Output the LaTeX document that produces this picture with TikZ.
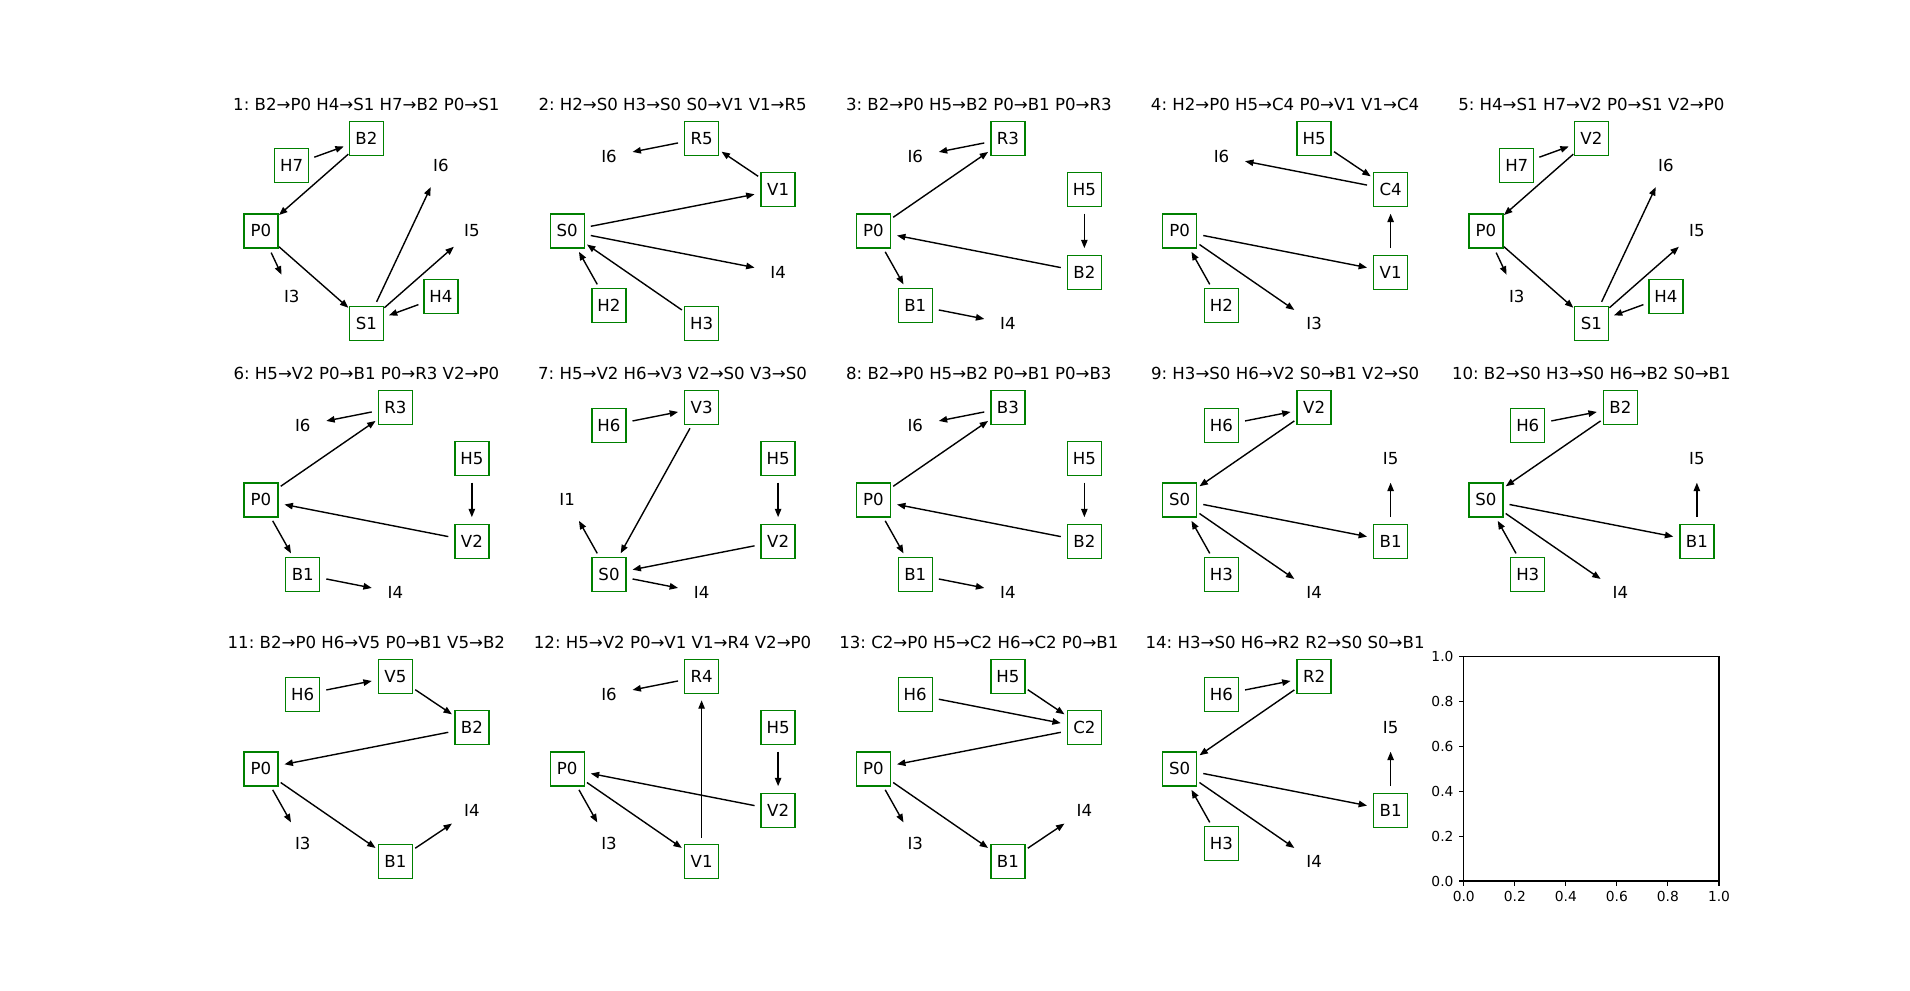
\documentclass[tikz,border=0pt]{standalone}
\usepackage{fontspec}
\setmainfont{DejaVu Sans}
\usepackage{xcolor}
\usetikzlibrary{arrows.meta}
\frenchspacing

\definecolor{boxgreen}{RGB}{0,128,0}
\tikzset{
  box/.style={draw=boxgreen, line width=0.7pt, fill=white, minimum width=17pt,
    minimum height=17pt, inner sep=0pt, font=\fontsize{8.3}{10}\selectfont},
  lbl/.style={inner sep=0pt, font=\fontsize{8.3}{10}\selectfont},
  ttl/.style={anchor=base, inner sep=0pt, font=\fontsize{8.3}{10}\selectfont},
  edge/.style={-{Triangle[length=4.2pt,width=3.2pt]}, line width=0.7pt,
    shorten <=12pt, shorten >=12pt},
  tick/.style={inner sep=0pt, font=\fontsize{6.9}{8}\selectfont},
}

\begin{document}
\begin{tikzpicture}[x=0.5pt, y=-0.5pt]
    \useasboundingbox (0,0) rectangle (1910,990);

    % 1. Hàng trên
    \begin{scope}[shift={(238.75,118.8)}, name prefix=a-]
        \node[ttl] (title) at (127.6,-8.5) {1: B2→P0 H4→S1 H7→B2 P0→S1};
        \node[box] (P0) at (22.2,112.1) {P0};
        \node[box] (H7) at (53.0,46.6) {H7};
        \node[box] (B2) at (127.6,19.5) {B2};
        \node[lbl] (I6) at (202.2,46.6) {I6};
        \node[lbl] (I5) at (233.1,112.1) {I5};
        \node[box] (H4) at (202.2,177.6) {H4};
        \node[box] (S1) at (127.6,204.8) {S1};
        \node[lbl] (I3) at (53.0,177.6) {I3};
        \draw[edge] (H7.center) -- (B2.center);
        \draw[edge] (B2.center) -- (P0.center);
        \draw[edge] (P0.center) -- (I3.center);
        \draw[edge] (P0.center) -- (S1.center);
        \draw[edge] (S1.center) -- (I6.center);
        \draw[edge] (S1.center) -- (I5.center);
        \draw[edge] (H4.center) -- (S1.center);
    \end{scope}

    \begin{scope}[shift={(545,118.8)}, name prefix=b-]
        \node[ttl] (title) at (127.6,-8.5) {2: H2→S0 H3→S0 S0→V1 V1→R5};
        \node[box] (S0) at (22.2,112.1) {S0};
        \node[lbl] (I6) at (64.0,37.8) {I6};
        \node[box] (R5) at (156.6,19.5) {R5};
        \node[box] (V1) at (233.1,70.9) {V1};
        \node[lbl] (I4) at (233.1,153.4) {I4};
        \node[box] (H3) at (156.6,204.8) {H3};
        \node[box] (H2) at (64.0,186.5) {H2};
        \draw[edge] (R5.center) -- (I6.center);
        \draw[edge] (V1.center) -- (R5.center);
        \draw[edge] (S0.center) -- (V1.center);
        \draw[edge] (S0.center) -- (I4.center);
        \draw[edge] (H2.center) -- (S0.center);
        \draw[edge] (H3.center) -- (S0.center);
    \end{scope}

    \begin{scope}[shift={(851.25,118.8)}, name prefix=c-]
        \node[ttl] (title) at (127.6,-8.5) {3: B2→P0 H5→B2 P0→B1 P0→R3};
        \node[box] (P0) at (22.2,112.1) {P0};
        \node[lbl] (I6) at (64.0,37.8) {I6};
        \node[box] (R3) at (156.6,19.5) {R3};
        \node[box] (H5) at (233.1,70.9) {H5};
        \node[box] (B2) at (233.1,153.4) {B2};
        \node[lbl] (I4) at (156.6,204.8) {I4};
        \node[box] (B1) at (64.0,186.5) {B1};
        \draw[edge] (R3.center) -- (I6.center);
        \draw[edge] (P0.center) -- (R3.center);
        \draw[edge] (H5.center) -- (B2.center);
        \draw[edge] (B2.center) -- (P0.center);
        \draw[edge] (P0.center) -- (B1.center);
        \draw[edge] (B1.center) -- (I4.center);
    \end{scope}

    \begin{scope}[shift={(1157.5,118.8)}, name prefix=d-]
        \node[ttl] (title) at (127.6,-8.5) {4: H2→P0 H5→C4 P0→V1 V1→C4};
        \node[box] (P0) at (22.2,112.1) {P0};
        \node[lbl] (I6) at (64.0,37.8) {I6};
        \node[box] (H5) at (156.6,19.5) {H5};
        \node[box] (C4) at (233.1,70.9) {C4};
        \node[box] (V1) at (233.1,153.4) {V1};
        \node[lbl] (I3) at (156.6,204.8) {I3};
        \node[box] (H2) at (64.0,186.5) {H2};
        \draw[edge] (H5.center) -- (C4.center);
        \draw[edge] (C4.center) -- (I6.center);
        \draw[edge] (V1.center) -- (C4.center);
        \draw[edge] (P0.center) -- (V1.center);
        \draw[edge] (P0.center) -- (I3.center);
        \draw[edge] (H2.center) -- (P0.center);
    \end{scope}

    \begin{scope}[shift={(1463.75,118.8)}, name prefix=e-]
        \node[ttl] (title) at (127.6,-8.5) {5: H4→S1 H7→V2 P0→S1 V2→P0};
        \node[box] (P0) at (22.2,112.1) {P0};
        \node[box] (H7) at (53.0,46.6) {H7};
        \node[box] (V2) at (127.6,19.5) {V2};
        \node[lbl] (I6) at (202.2,46.6) {I6};
        \node[lbl] (I5) at (233.1,112.1) {I5};
        \node[box] (H4) at (202.2,177.6) {H4};
        \node[box] (S1) at (127.6,204.8) {S1};
        \node[lbl] (I3) at (53.0,177.6) {I3};
        \draw[edge] (H7.center) -- (V2.center);
        \draw[edge] (V2.center) -- (P0.center);
        \draw[edge] (P0.center) -- (I3.center);
        \draw[edge] (P0.center) -- (S1.center);
        \draw[edge] (S1.center) -- (I6.center);
        \draw[edge] (S1.center) -- (I5.center);
        \draw[edge] (H4.center) -- (S1.center);
    \end{scope}

    % 2. Hàng giữa
    \begin{scope}[shift={(238.75,387.8)}, name prefix=f-]
        \node[ttl] (title) at (127.6,-8.5) {6: H5→V2 P0→B1 P0→R3 V2→P0};
        \node[box] (P0) at (22.2,112.1) {P0};
        \node[lbl] (I6) at (64.0,37.8) {I6};
        \node[box] (R3) at (156.6,19.5) {R3};
        \node[box] (H5) at (233.1,70.9) {H5};
        \node[box] (V2) at (233.1,153.4) {V2};
        \node[lbl] (I4) at (156.6,204.8) {I4};
        \node[box] (B1) at (64.0,186.5) {B1};
        \draw[edge] (R3.center) -- (I6.center);
        \draw[edge] (P0.center) -- (R3.center);
        \draw[edge] (H5.center) -- (V2.center);
        \draw[edge] (V2.center) -- (P0.center);
        \draw[edge] (P0.center) -- (B1.center);
        \draw[edge] (B1.center) -- (I4.center);
    \end{scope}

    \begin{scope}[shift={(545,387.8)}, name prefix=g-]
        \node[ttl] (title) at (127.6,-8.5) {7: H5→V2 H6→V3 V2→S0 V3→S0};
        \node[lbl] (I1) at (22.2,112.1) {I1};
        \node[box] (H6) at (64.0,37.8) {H6};
        \node[box] (V3) at (156.6,19.5) {V3};
        \node[box] (H5) at (233.1,70.9) {H5};
        \node[box] (V2) at (233.1,153.4) {V2};
        \node[lbl] (I4) at (156.6,204.8) {I4};
        \node[box] (S0) at (64.0,186.5) {S0};
        \draw[edge] (H6.center) -- (V3.center);
        \draw[edge] (V3.center) -- (S0.center);
        \draw[edge] (H5.center) -- (V2.center);
        \draw[edge] (V2.center) -- (S0.center);
        \draw[edge] (S0.center) -- (I1.center);
        \draw[edge] (S0.center) -- (I4.center);
    \end{scope}

    \begin{scope}[shift={(851.25,387.8)}, name prefix=h-]
        \node[ttl] (title) at (127.6,-8.5) {8: B2→P0 H5→B2 P0→B1 P0→B3};
        \node[box] (P0) at (22.2,112.1) {P0};
        \node[lbl] (I6) at (64.0,37.8) {I6};
        \node[box] (B3) at (156.6,19.5) {B3};
        \node[box] (H5) at (233.1,70.9) {H5};
        \node[box] (B2) at (233.1,153.4) {B2};
        \node[lbl] (I4) at (156.6,204.8) {I4};
        \node[box] (B1) at (64.0,186.5) {B1};
        \draw[edge] (B3.center) -- (I6.center);
        \draw[edge] (P0.center) -- (B3.center);
        \draw[edge] (H5.center) -- (B2.center);
        \draw[edge] (B2.center) -- (P0.center);
        \draw[edge] (P0.center) -- (B1.center);
        \draw[edge] (B1.center) -- (I4.center);
    \end{scope}

    \begin{scope}[shift={(1157.5,387.8)}, name prefix=i-]
        \node[ttl] (title) at (127.6,-8.5) {9: H3→S0 H6→V2 S0→B1 V2→S0};
        \node[box] (S0) at (22.2,112.1) {S0};
        \node[box] (H6) at (64.0,37.8) {H6};
        \node[box] (V2) at (156.6,19.5) {V2};
        \node[lbl] (I5) at (233.1,70.9) {I5};
        \node[box] (B1) at (233.1,153.4) {B1};
        \node[lbl] (I4) at (156.6,204.8) {I4};
        \node[box] (H3) at (64.0,186.5) {H3};
        \draw[edge] (H6.center) -- (V2.center);
        \draw[edge] (V2.center) -- (S0.center);
        \draw[edge] (S0.center) -- (B1.center);
        \draw[edge] (B1.center) -- (I5.center);
        \draw[edge] (S0.center) -- (I4.center);
        \draw[edge] (H3.center) -- (S0.center);
    \end{scope}

    \begin{scope}[shift={(1463.75,387.8)}, name prefix=j-]
        \node[ttl] (title) at (127.6,-8.5) {10: B2→S0 H3→S0 H6→B2 S0→B1};
        \node[box] (S0) at (22.2,112.1) {S0};
        \node[box] (H6) at (64.0,37.8) {H6};
        \node[box] (B2) at (156.6,19.5) {B2};
        \node[lbl] (I5) at (233.1,70.9) {I5};
        \node[box] (B1) at (233.1,153.4) {B1};
        \node[lbl] (I4) at (156.6,204.8) {I4};
        \node[box] (H3) at (64.0,186.5) {H3};
        \draw[edge] (H6.center) -- (B2.center);
        \draw[edge] (B2.center) -- (S0.center);
        \draw[edge] (S0.center) -- (B1.center);
        \draw[edge] (B1.center) -- (I5.center);
        \draw[edge] (S0.center) -- (I4.center);
        \draw[edge] (H3.center) -- (S0.center);
    \end{scope}

    % 3. Hàng dưới
    \begin{scope}[shift={(238.75,656.8)}, name prefix=k-]
        \node[ttl] (title) at (127.6,-8.5) {11: B2→P0 H6→V5 P0→B1 V5→B2};
        \node[box] (P0) at (22.2,112.1) {P0};
        \node[box] (H6) at (64.0,37.8) {H6};
        \node[box] (V5) at (156.6,19.5) {V5};
        \node[box] (B2) at (233.1,70.9) {B2};
        \node[lbl] (I4) at (233.1,153.4) {I4};
        \node[box] (B1) at (156.6,204.8) {B1};
        \node[lbl] (I3) at (64.0,186.5) {I3};
        \draw[edge] (H6.center) -- (V5.center);
        \draw[edge] (V5.center) -- (B2.center);
        \draw[edge] (B2.center) -- (P0.center);
        \draw[edge] (P0.center) -- (I3.center);
        \draw[edge] (P0.center) -- (B1.center);
        \draw[edge] (B1.center) -- (I4.center);
    \end{scope}

    \begin{scope}[shift={(545,656.8)}, name prefix=l-]
        \node[ttl] (title) at (127.6,-8.5) {12: H5→V2 P0→V1 V1→R4 V2→P0};
        \node[box] (P0) at (22.2,112.1) {P0};
        \node[lbl] (I6) at (64.0,37.8) {I6};
        \node[box] (R4) at (156.6,19.5) {R4};
        \node[box] (H5) at (233.1,70.9) {H5};
        \node[box] (V2) at (233.1,153.4) {V2};
        \node[box] (V1) at (156.6,204.8) {V1};
        \node[lbl] (I3) at (64.0,186.5) {I3};
        \draw[edge] (R4.center) -- (I6.center);
        \draw[edge] (V1.center) -- (R4.center);
        \draw[edge] (P0.center) -- (V1.center);
        \draw[edge] (H5.center) -- (V2.center);
        \draw[edge] (V2.center) -- (P0.center);
        \draw[edge] (P0.center) -- (I3.center);
    \end{scope}

    \begin{scope}[shift={(851.25,656.8)}, name prefix=m-]
        \node[ttl] (title) at (127.6,-8.5) {13: C2→P0 H5→C2 H6→C2 P0→B1};
        \node[box] (P0) at (22.2,112.1) {P0};
        \node[box] (H6) at (64.0,37.8) {H6};
        \node[box] (H5) at (156.6,19.5) {H5};
        \node[box] (C2) at (233.1,70.9) {C2};
        \node[lbl] (I4) at (233.1,153.4) {I4};
        \node[box] (B1) at (156.6,204.8) {B1};
        \node[lbl] (I3) at (64.0,186.5) {I3};
        \draw[edge] (H6.center) -- (C2.center);
        \draw[edge] (H5.center) -- (C2.center);
        \draw[edge] (C2.center) -- (P0.center);
        \draw[edge] (P0.center) -- (I3.center);
        \draw[edge] (P0.center) -- (B1.center);
        \draw[edge] (B1.center) -- (I4.center);
    \end{scope}

    \begin{scope}[shift={(1157.5,656.8)}, name prefix=n-]
        \node[ttl] (title) at (127.6,-8.5) {14: H3→S0 H6→R2 R2→S0 S0→B1};
        \node[box] (S0) at (22.2,112.1) {S0};
        \node[box] (H6) at (64.0,37.8) {H6};
        \node[box] (R2) at (156.6,19.5) {R2};
        \node[lbl] (I5) at (233.1,70.9) {I5};
        \node[box] (B1) at (233.1,153.4) {B1};
        \node[lbl] (I4) at (156.6,204.8) {I4};
        \node[box] (H3) at (64.0,186.5) {H3};
        \draw[edge] (H6.center) -- (R2.center);
        \draw[edge] (R2.center) -- (S0.center);
        \draw[edge] (S0.center) -- (B1.center);
        \draw[edge] (B1.center) -- (I5.center);
        \draw[edge] (S0.center) -- (I4.center);
        \draw[edge] (H3.center) -- (S0.center);
    \end{scope}

    % 4. Khung trục trống
    \begin{scope}[shift={(1463.75,656.8)}, name prefix=o-, line width=0.55pt]
        \draw (0,0) rectangle (255.2,224.2);
        % vạch chia trục ngang
        \draw (0,224.2) -- (0,229.1);
        \draw (51.04,224.2) -- (51.04,229.1);
        \draw (102.08,224.2) -- (102.08,229.1);
        \draw (153.12,224.2) -- (153.12,229.1);
        \draw (204.16,224.2) -- (204.16,229.1);
        \draw (255.2,224.2) -- (255.2,229.1);
        \node[tick, anchor=north] (x0) at (0,234) {0.0};
        \node[tick, anchor=north] (x1) at (51.04,234) {0.2};
        \node[tick, anchor=north] (x2) at (102.08,234) {0.4};
        \node[tick, anchor=north] (x3) at (153.12,234) {0.6};
        \node[tick, anchor=north] (x4) at (204.16,234) {0.8};
        \node[tick, anchor=north] (x5) at (255.2,234) {1.0};
        % vạch chia trục đứng
        \draw (0,224.2) -- (-4.9,224.2);
        \draw (0,179.36) -- (-4.9,179.36);
        \draw (0,134.52) -- (-4.9,134.52);
        \draw (0,89.68) -- (-4.9,89.68);
        \draw (0,44.84) -- (-4.9,44.84);
        \draw (0,0) -- (-4.9,0);
        \node[tick, anchor=east] (y0) at (-9.8,224.2) {0.0};
        \node[tick, anchor=east] (y1) at (-9.8,179.36) {0.2};
        \node[tick, anchor=east] (y2) at (-9.8,134.52) {0.4};
        \node[tick, anchor=east] (y3) at (-9.8,89.68) {0.6};
        \node[tick, anchor=east] (y4) at (-9.8,44.84) {0.8};
        \node[tick, anchor=east] (y5) at (-9.8,0) {1.0};
    \end{scope}
\end{tikzpicture}
\end{document}
